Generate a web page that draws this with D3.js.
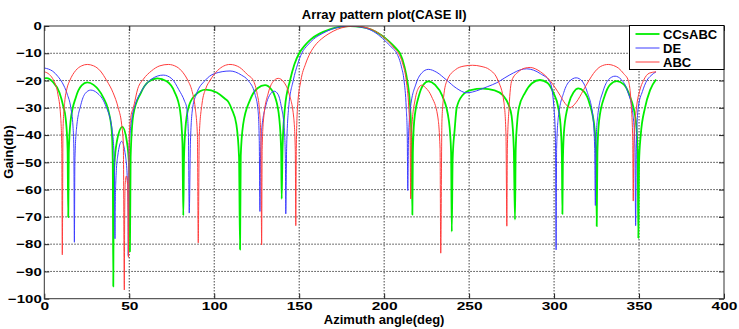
<!DOCTYPE html>
<html>
<head>
<meta charset="utf-8">
<script src="https://cdn.jsdelivr.net/npm/d3@7"></script>
<style>
  body { margin: 0; background: #fff; }
  svg { display: block; }
  text { font-family: "Liberation Sans", Arial, Helvetica, sans-serif; font-weight: bold; fill: #000; }
</style>
</head>
<body>
<svg id="chart"></svg>
<script>
// series: [azimuth deg, gain dB]
const seriesNames = ['CCsABC', 'DE', 'ABC'];
const seriesColors = ['#00ee00', '#3d3dff', '#ff3d3d'];
const xTicks = [0, 50, 100, 150, 200, 250, 300, 350, 400];
const yTicks = [-100, -90, -80, -70, -60, -50, -40, -30, -20, -10, 0];

const ccsabc = [
  [0,-19.2],[1.5,-19.1],[5,-20.5],[8.9,-24.4],[11.2,-29.5],[12.6,-34],[13.7,-45],[14.1,-70.1],
  [14.4,-46.7],[15.4,-35.2],[18.6,-26.1],[22,-21.8],[25.3,-20.7],[29,-21.6],[34.5,-26],[37.7,-31],[39.7,-38.5],[40.3,-50],[40.6,-95.5],
  [40.8,-63],[41.2,-51.5],[42.7,-42.4],[45.9,-37],[48.6,-42.4],[49.9,-51.5],[50.3,-63],[50.4,-82.6],
  [50.8,-48],[52.4,-32.5],[56.8,-24.6],[61,-20.6],[66.5,-19.2],[72,-20.3],[76.5,-24],[79.9,-31],[81.3,-43],[81.8,-69.5],
  [82.2,-49],[83,-38],[84.8,-30],[88.5,-25.5],[95,-23.3],[101.5,-24.4],[106,-26.5],[108.5,-28],[110.3,-30.5],[113,-36],[114.6,-48],[115.2,-82],
  [115.6,-47.7],[117,-36.2],[121.1,-27.1],[125.5,-22.8],[129.9,-21.7],[133.5,-23.2],[135.8,-26],[138.3,-34],[139.4,-46],[139.7,-63.4],
  [140.2,-45],[141.6,-30],[144.6,-20],[147.2,-14],[150,-10],[153.5,-7],[157,-4.8],[162,-2.8],[168,-1.2],[174,-0.3],[180,0],
  [186,-0.3],[192,-1.2],[198,-3.2],[203.5,-6],[207,-8.2],[209.3,-10],[212,-15],[213.6,-20],[215.3,-30],[216.1,-42],[216.6,-69.2],
  [216.9,-46.3],[217.7,-34.8],[220.4,-25.7],[223,-21.6],[226,-20.3],[230,-21.6],[234.3,-25.7],[238.1,-34.8],[239.4,-46.3],[239.8,-75.4],
  [240.3,-49],[241.5,-38],[242.7,-30],[246,-25.5],[251,-23.5],[258,-23],[265,-23.6],[270,-25.5],[273.3,-29],[275,-33],[276.3,-45],[277,-71],
  [277.4,-45.8],[278.2,-36],[279.3,-30],[282.9,-24.5],[287,-21],[291.7,-19.8],[296,-20.8],[299.6,-24.5],[302.5,-30],[304,-38],[304.6,-48],[304.9,-68.9],
  [305.2,-48.9],[306,-37.4],[308.7,-28.3],[311.5,-24.3],[314.3,-22.9],[317.5,-24],[320.8,-28.3],[323.8,-37.4],[324.8,-48.9],[325.1,-73.4],
  [325.5,-46.2],[326.5,-34.7],[329.8,-25.6],[333,-21.5],[336.9,-20.2],[341,-21.4],[344.5,-25.6],[348.1,-34.7],[349.2,-46.2],[349.6,-77.7],
  [350,-50],[351,-40],[353.5,-30],[356.5,-23.5],[360,-19.6]
];

const de = [
  [0,-15.4],[2.5,-15.8],[5,-16.6],[8,-18.5],[10.6,-20.8],[13.5,-25],[15.6,-30],[16.9,-37],[17.4,-45],[17.7,-79.3],
  [18,-49.5],[18.9,-38],[21.5,-28.9],[24,-24.8],[27.3,-23.5],[31,-24.5],[35.9,-28.9],[39.9,-38],[41.2,-49.5],[41.6,-78],
  [41.7,-68],[42.1,-56.8],[43.2,-47.7],[45.5,-42.3],[47.8,-47.7],[48.9,-56.8],[49.3,-68],[49.4,-84.2],
  [50,-44],[51.9,-32.5],[53.4,-29],[57.6,-23.4],[63,-19.5],[70,-18],[75,-19.3],[79.2,-23.4],[82.5,-27.5],[83.8,-30],[84.8,-40],[85.3,-68.6],
  [86,-42.5],[87.3,-30],[89.5,-25],[94.6,-20],[100,-17.5],[109.3,-16.5],[116,-18],[120,-20],[124,-25],[125.8,-31],[126.5,-42],[126.9,-68],
  [127.2,-49.9],[127.9,-38.4],[130.3,-29.3],[132.5,-25.5],[135.3,-23.9],[137.5,-25],[139.4,-29.3],[141.3,-38.4],[141.9,-49.9],[142.1,-68.9],
  [142.6,-45],[143.8,-30],[146.5,-20],[149.1,-14],[151.5,-10],[155,-7],[158.5,-4.8],[163.5,-2.8],[169,-1.2],[174.5,-0.3],[179.5,0],
  [185,-0.3],[191,-1.2],[196.5,-3.2],[201.5,-6],[205,-8.2],[207.4,-10],[210.2,-15],[211.7,-20],[213,-30],[213.6,-40],[213.9,-60.3],
  [214.3,-41.9],[215.4,-30.4],[218.7,-21.3],[222,-17.3],[226,-15.9],[231,-17],[236.5,-19.7],[242.5,-22.8],[248.6,-24.5],
  [252,-24.2],[256.5,-23.3],[261,-22.2],[266.3,-20.8],[271,-19],[276.1,-17.2],[280,-16.1],[283.9,-15.7],[288,-16.2],[292,-17.5],
  [297.6,-20.5],[299.8,-29],[300.8,-41],[301.2,-82.1],
  [301.5,-45],[302.5,-33.5],[305.7,-24.4],[309,-20.3],[313,-19],[316.5,-20.2],[319.6,-24.4],[322.9,-33.5],[323.9,-45],[324.3,-65.8],
  [324.6,-44.4],[325.7,-32.9],[328.9,-23.8],[332,-19.7],[335.9,-18.4],[339.5,-19.6],[343.2,-23.8],[346.5,-32.9],[347.6,-44.4],[348,-73.2],
  [348.4,-45],[349.5,-30],[352,-24],[354.6,-20],[357,-18.2],[360,-16.8]
];

const abc = [
  [0,-16.8],[3,-17.8],[5.5,-20],[8,-25],[9.6,-33],[10.3,-45],[10.6,-83.9],
  [11,-38],[12,-28],[13.3,-23],[15,-20],[18.5,-16.3],[22,-14.6],[25.3,-14.1],[29,-14.6],[33,-16.5],[36.7,-20],[40.5,-24.5],[43.5,-30],[45.5,-36],[46.5,-43],[47.1,-96.8],
  [47.3,-70],[47.6,-58],[48.3,-55],[49,-58],[49.3,-70],[49.5,-84.8],
  [50,-40],[51,-33],[52.4,-30],[55,-23],[58.3,-19.5],[63,-16.5],[68,-14.6],[73,-14.1],[78,-15],[81.5,-17],[84.5,-20],[87,-24],[88.8,-30],[90.1,-40],[90.6,-79.5],
  [91.2,-40.1],[92.8,-28.6],[95,-23],[97.5,-20],[102,-16.3],[109.3,-14.1],[115,-15.2],[119.5,-17.8],[123,-20],[125.3,-25],[126.5,-30],[127.5,-42],[127.9,-80.3],
  [128.2,-45.2],[129.1,-33.7],[131.8,-24.6],[134.5,-20.5],[137.7,-19.2],[141,-20.6],[143.9,-24.6],[146.8,-33.7],[147.7,-45.2],[148,-73.2],
  [148.3,-45],[149,-30],[151,-20],[153.7,-14],[156.4,-10],[159.5,-7],[163,-4.8],[167.5,-2.8],[172.5,-1.2],[177.5,-0.3],[182.4,0],
  [187.5,-0.3],[192.5,-1.2],[198,-3.2],[203,-6],[206,-8.2],[208.4,-10],[211,-14],[213,-20],[214.5,-30],[215.3,-42],[215.6,-63.4],
  [215.8,-47.7],[216.4,-36.2],[218.2,-27.1],[220,-23],[222.1,-21.7],[224.5,-22.7],[228,-26],[231.5,-33],[232.9,-45],[233.3,-83.3],
  [234,-35],[235,-26],[237,-20],[242,-16],[247,-14.7],[252,-14.4],[257,-14.8],[262,-16],[267,-20],[270.5,-28],[271.7,-40],[272.2,-73.4],
  [272.5,-45],[273.5,-30],[275.1,-20],[279,-16.8],[282.5,-15.5],[286,-15.2],[289,-15.7],[292,-16.8],[297.6,-20],[300.5,-22.5],
  [303.5,-25.4],[306.5,-28.4],[309.5,-29.9],[313,-28],[317.3,-23.5],[320.5,-20],[323.2,-17.4],[327.5,-14.8],[331.9,-14.1],
  [335,-14.5],[338,-15.5],[341,-17.5],[343.7,-20],[345.5,-30],[346.3,-42],[346.6,-64.2],
  [347,-42],[348.5,-30],[350.5,-23.5],[352.6,-20],[356,-17.3],[360,-16.8]
];

const width = 739, height = 329;
const margin = { top: 26, right: 15, bottom: 30.3, left: 44.3 };
const innerW = width - margin.left - margin.right;
const innerH = height - margin.top - margin.bottom;

const svg = d3.select('#chart').attr('width', width).attr('height', height);
svg.append('rect').attr('width', width).attr('height', height).attr('fill', '#fff');

const x = d3.scaleLinear().domain([0, 400]).range([0, innerW]);
const y = d3.scaleLinear().domain([-100, 0]).range([innerH, 0]);

const g = svg.append('g').attr('transform', `translate(${margin.left},${margin.top})`);

// dotted grid
g.append('g').selectAll('line').data(xTicks.slice(1, -1)).enter().append('line')
  .attr('x1', d => x(d)).attr('x2', d => x(d)).attr('y1', 0).attr('y2', innerH)
  .attr('stroke', '#444').attr('stroke-width', 1).attr('stroke-dasharray', '1.5,1.5');
g.append('g').selectAll('line').data(yTicks.slice(1, -1)).enter().append('line')
  .attr('x1', 0).attr('x2', innerW).attr('y1', d => y(d)).attr('y2', d => y(d))
  .attr('stroke', '#444').attr('stroke-width', 1).attr('stroke-dasharray', '1.5,1.5');

// curves
const line = d3.line().x(d => x(d[0])).y(d => y(d[1])).curve(d3.curveMonotoneX);
const allSeries = [ccsabc, de, abc];
const widths = [1.8, 1, 1];
g.append('defs').append('clipPath').attr('id', 'clip')
  .append('rect').attr('width', innerW).attr('height', innerH);
g.append('g').attr('clip-path', 'url(#clip)').selectAll('path').data(allSeries).enter().append('path')
  .attr('d', line)
  .attr('fill', 'none')
  .attr('stroke', (d, i) => seriesColors[i])
  .attr('stroke-width', (d, i) => widths[i])
  .attr('stroke-linejoin', 'round');

// axes, MATLAB style ticks pointing inward
const xAxis = g.append('g').attr('transform', `translate(0,${innerH})`)
  .call(d3.axisBottom(x).tickValues(xTicks).tickSizeInner(-5).tickSizeOuter(0).tickPadding(3.6));
const yAxis = g.append('g')
  .call(d3.axisLeft(y).tickValues(yTicks).tickSizeInner(-5).tickSizeOuter(0).tickPadding(2));
g.append('g').call(d3.axisTop(x).tickValues(xTicks).tickSizeInner(-5).tickSizeOuter(0).tickFormat(''));
g.append('g').attr('transform', `translate(${innerW},0)`)
  .call(d3.axisRight(y).tickValues(yTicks).tickSizeInner(-5).tickSizeOuter(0).tickFormat(''));

g.selectAll('.domain').remove();
g.selectAll('.tick line').attr('stroke', '#222');
xAxis.selectAll('text').style('font-size', '11.5px').attr('transform', 'scale(1.35,1)');
yAxis.selectAll('text').style('font-size', '11.5px').attr('transform', 'scale(1.3,1)');

g.append('rect').attr('width', innerW).attr('height', innerH)
  .attr('fill', 'none').attr('stroke', '#333').attr('stroke-width', 1);

// titles
svg.append('text').attr('x', margin.left + innerW / 2).attr('y', 18.5)
  .attr('text-anchor', 'middle').style('font-size', '13px').text('Array pattern plot(CASE II)');
svg.append('text').attr('x', margin.left + innerW / 2).attr('y', 323.5)
  .attr('text-anchor', 'middle').style('font-size', '13px').text('Azimuth angle(deg)');
svg.append('text').attr('transform', 'translate(13,152) rotate(-90)')
  .attr('text-anchor', 'middle').style('font-size', '13px').text('Gain(db)');

// legend
const legend = svg.append('g').attr('transform', 'translate(629.5,25.5)');
legend.append('rect').attr('width', 94.5).attr('height', 44)
  .attr('fill', '#fff').attr('stroke', '#000').attr('stroke-width', 1);
seriesNames.forEach((name, i) => {
  const ly = 8.5 + i * 14;
  legend.append('line').attr('x1', 6).attr('x2', 30).attr('y1', ly).attr('y2', ly)
    .attr('stroke', seriesColors[i]).attr('stroke-width', widths[i]);
  legend.append('text').attr('x', 33.5).attr('y', ly + 4.6).style('font-size', '13px').text(name);
});
</script>
</body>
</html>
